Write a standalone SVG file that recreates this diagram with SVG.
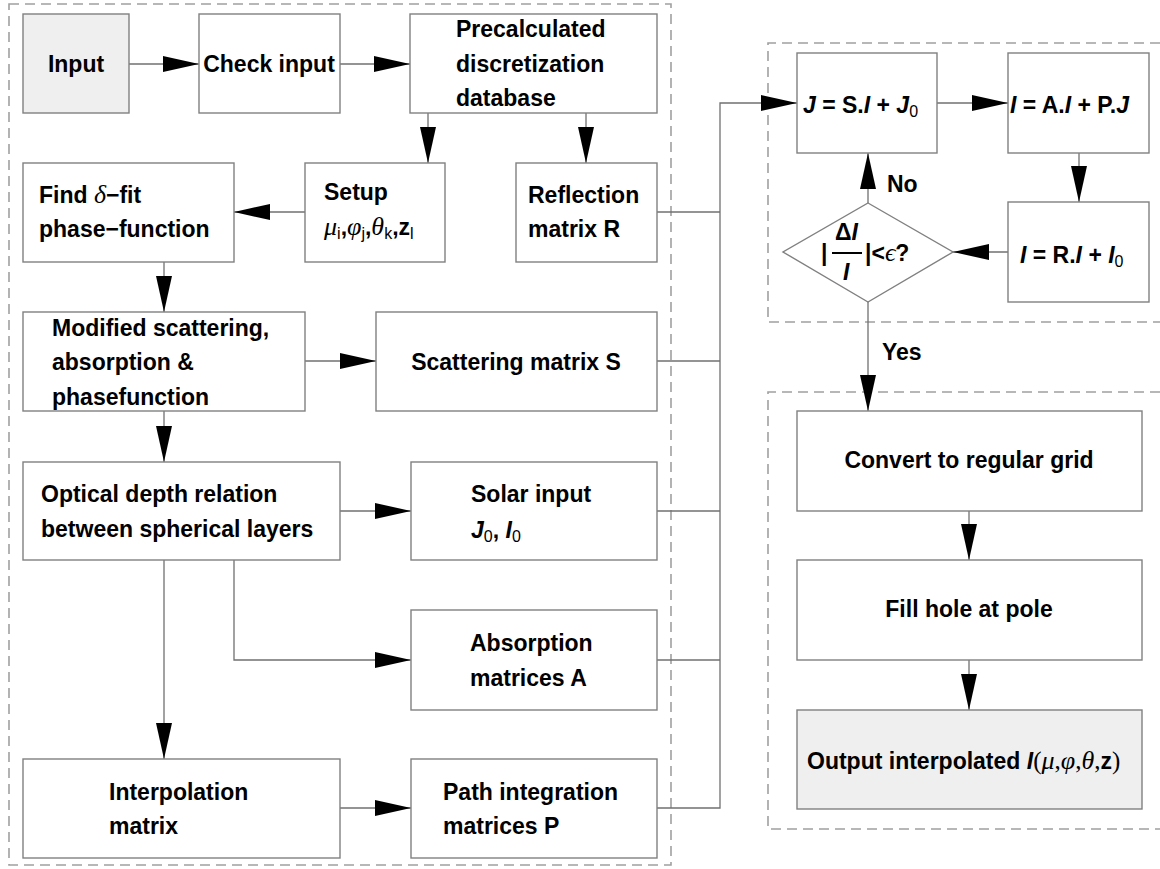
<svg xmlns="http://www.w3.org/2000/svg" width="1160" height="869" viewBox="0 0 1160 869">
<style>
.box{fill:#fff;stroke:#808080;stroke-width:1.4}
.gray{fill:#efefef}
.dash{fill:none;stroke:#a0a0a0;stroke-width:1.6;stroke-dasharray:10,6}
.ln{fill:none;stroke:#707070;stroke-width:1.3}
text{font-family:"Liberation Sans",Arial,sans-serif;font-weight:bold;font-size:23px;fill:#000}
.c{text-anchor:middle}
.it{font-style:italic}
.gr{font-family:"Liberation Serif","Times New Roman",serif;font-style:italic;font-weight:normal;font-size:26px}
.sr{font-family:"Liberation Serif","Times New Roman",serif;font-weight:normal;font-size:25px}
.sub{font-size:16px;font-weight:normal}
</style>
<defs>
<marker id="ah" markerUnits="userSpaceOnUse" markerWidth="37" markerHeight="17" refX="36" refY="8" orient="auto">
<path d="M0,0 L36,8 L0,16 Z" fill="#000"/>
</marker>
</defs>
<rect width="1160" height="869" fill="#fff"/>
<g id="groups">
<rect class="dash" x="9" y="4" width="662" height="861"/>
<path class="dash" d="M1160,43 H768 V322 H1160"/>
<path class="dash" d="M1160,392 H768 V829 H1160"/>
</g>
<g id="connectors">
<line class="ln" x1="129" y1="64" x2="199" y2="64" marker-end="url(#ah)"/>
<line class="ln" x1="340" y1="64" x2="410" y2="64" marker-end="url(#ah)"/>
<line class="ln" x1="428" y1="113" x2="428" y2="163" marker-end="url(#ah)"/>
<line class="ln" x1="586" y1="113" x2="586" y2="163" marker-end="url(#ah)"/>
<line class="ln" x1="305" y1="212" x2="234" y2="212" marker-end="url(#ah)"/>
<line class="ln" x1="164" y1="262" x2="164" y2="312" marker-end="url(#ah)"/>
<line class="ln" x1="305" y1="361" x2="376" y2="361" marker-end="url(#ah)"/>
<line class="ln" x1="164" y1="411" x2="164" y2="462" marker-end="url(#ah)"/>
<line class="ln" x1="340" y1="511" x2="411" y2="511" marker-end="url(#ah)"/>
<polyline class="ln" points="234,560 234,660 411,660" marker-end="url(#ah)"/>
<line class="ln" x1="164" y1="560" x2="164" y2="759" marker-end="url(#ah)"/>
<line class="ln" x1="340" y1="808" x2="411" y2="808" marker-end="url(#ah)"/>
<polyline class="ln" points="657,212 720,212"/>
<polyline class="ln" points="657,361 720,361"/>
<polyline class="ln" points="657,511 720,511"/>
<polyline class="ln" points="657,660 720,660"/>
<polyline class="ln" points="657,808 720,808 720,103 797,103" marker-end="url(#ah)"/>
<line class="ln" x1="937" y1="103" x2="1008" y2="103" marker-end="url(#ah)"/>
<line class="ln" x1="1079" y1="153" x2="1079" y2="202" marker-end="url(#ah)"/>
<line class="ln" x1="1008" y1="252" x2="953" y2="252" marker-end="url(#ah)"/>
<line class="ln" x1="868" y1="203" x2="868" y2="153" marker-end="url(#ah)"/>
<line class="ln" x1="868" y1="302" x2="868" y2="411" marker-end="url(#ah)"/>
<line class="ln" x1="969" y1="511" x2="969" y2="560" marker-end="url(#ah)"/>
<line class="ln" x1="969" y1="660" x2="969" y2="710" marker-end="url(#ah)"/>
<text x="887" y="192">No</text>
<text x="882" y="360">Yes</text>
</g>
<g id="input">
<rect class="box gray" x="23" y="14" width="106" height="99"/>
<text class="c" x="76" y="72">Input</text>
</g>
<g id="check">
<rect class="box" x="199" y="14" width="141" height="99"/>
<text class="c" x="269" y="72">Check input</text>
</g>
<g id="precalc">
<rect class="box" x="410" y="14" width="247" height="99"/>
<text x="456" y="37">Precalculated</text>
<text x="456" y="72">discretization</text>
<text x="456" y="106">database</text>
</g>
<g id="setup">
<rect class="box" x="305" y="163" width="140" height="99"/>
<text x="324" y="200">Setup</text>
<text x="324" y="235"><tspan class="gr">μ</tspan><tspan class="sub" dy="4">i</tspan><tspan dy="-4">,</tspan><tspan class="gr">φ</tspan><tspan class="sub" dy="4">j</tspan><tspan dy="-4">,</tspan><tspan class="gr">θ</tspan><tspan class="sub" dy="4">k</tspan><tspan dy="-4">,z</tspan><tspan class="sub" dy="4">l</tspan></text>
</g>
<g id="reflection">
<rect class="box" x="516" y="163" width="141" height="99"/>
<text x="528" y="203">Reflection</text>
<text x="528" y="237">matrix R</text>
</g>
<g id="findfit">
<rect class="box" x="23" y="163" width="211" height="99"/>
<text x="39" y="203">Find <tspan class="gr">δ</tspan>−fit</text>
<text x="39" y="237">phase−function</text>
</g>
<g id="modified">
<rect class="box" x="23" y="312" width="282" height="99"/>
<text x="52" y="336">Modified scattering,</text>
<text x="52" y="370">absorption &amp;</text>
<text x="52" y="405">phasefunction</text>
</g>
<g id="scattering">
<rect class="box" x="376" y="312" width="281" height="99"/>
<text class="c" x="516" y="370">Scattering matrix S</text>
</g>
<g id="optical">
<rect class="box" x="23" y="462" width="317" height="98"/>
<text x="41" y="502">Optical depth relation</text>
<text x="41" y="537">between spherical layers</text>
</g>
<g id="solar">
<rect class="box" x="411" y="462" width="246" height="98"/>
<text x="471" y="502">Solar input</text>
<text x="471" y="538"><tspan class="it">J</tspan><tspan class="sub" dy="4">0</tspan><tspan dy="-4">, </tspan><tspan class="it">I</tspan><tspan class="sub" dy="4">0</tspan></text>
</g>
<g id="absorption">
<rect class="box" x="411" y="610" width="246" height="100"/>
<text x="470" y="651">Absorption</text>
<text x="470" y="686">matrices A</text>
</g>
<g id="interpolation">
<rect class="box" x="23" y="759" width="317" height="99"/>
<text x="109" y="800">Interpolation</text>
<text x="109" y="834">matrix</text>
</g>
<g id="path">
<rect class="box" x="411" y="759" width="246" height="99"/>
<text x="443" y="800">Path integration</text>
<text x="443" y="834">matrices P</text>
</g>
<g id="jeq">
<rect class="box" x="797" y="53" width="140" height="100"/>
<text x="803" y="113"><tspan class="it">J</tspan> = S.<tspan class="it">I</tspan> + <tspan class="it">J</tspan><tspan class="sub" dy="4">0</tspan></text>
</g>
<g id="ieqa">
<rect class="box" x="1008" y="53" width="141" height="100"/>
<text x="1010" y="113"><tspan class="it">I</tspan> = A.<tspan class="it">I</tspan> + P.<tspan class="it">J</tspan></text>
</g>
<g id="ieqr">
<rect class="box" x="1008" y="202" width="141" height="100"/>
<text x="1020" y="263"><tspan class="it">I</tspan> = R.<tspan class="it">I</tspan> + <tspan class="it">I</tspan><tspan class="sub" dy="4">0</tspan></text>
</g>
<g id="decision">
<polygon class="box" points="868,203 953,252 868,302 783,252"/>
<text x="835" y="240">Δ<tspan class="it">I</tspan></text>
<line x1="832" y1="253" x2="862" y2="253" stroke="#000" stroke-width="2"/>
<text x="843" y="280" class="it">I</text>
<text x="821" y="261">|</text>
<text x="865" y="261">|&lt;<tspan class="gr">ϵ</tspan>?</text>
</g>
<g id="convert">
<rect class="box" x="797" y="411" width="345" height="100"/>
<text class="c" x="969" y="468">Convert to regular grid</text>
</g>
<g id="fillhole">
<rect class="box" x="797" y="560" width="345" height="100"/>
<text class="c" x="969" y="617">Fill hole at pole</text>
</g>
<g id="output">
<rect class="box gray" x="797" y="710" width="345" height="99"/>
<text x="807" y="769">Output interpolated <tspan class="it">I</tspan><tspan class="sr">(</tspan><tspan class="gr">μ</tspan><tspan class="sr">,</tspan><tspan class="gr">φ</tspan><tspan class="sr">,</tspan><tspan class="gr">θ</tspan><tspan class="sr">,</tspan>z<tspan class="sr">)</tspan></text>
</g>
</svg>
